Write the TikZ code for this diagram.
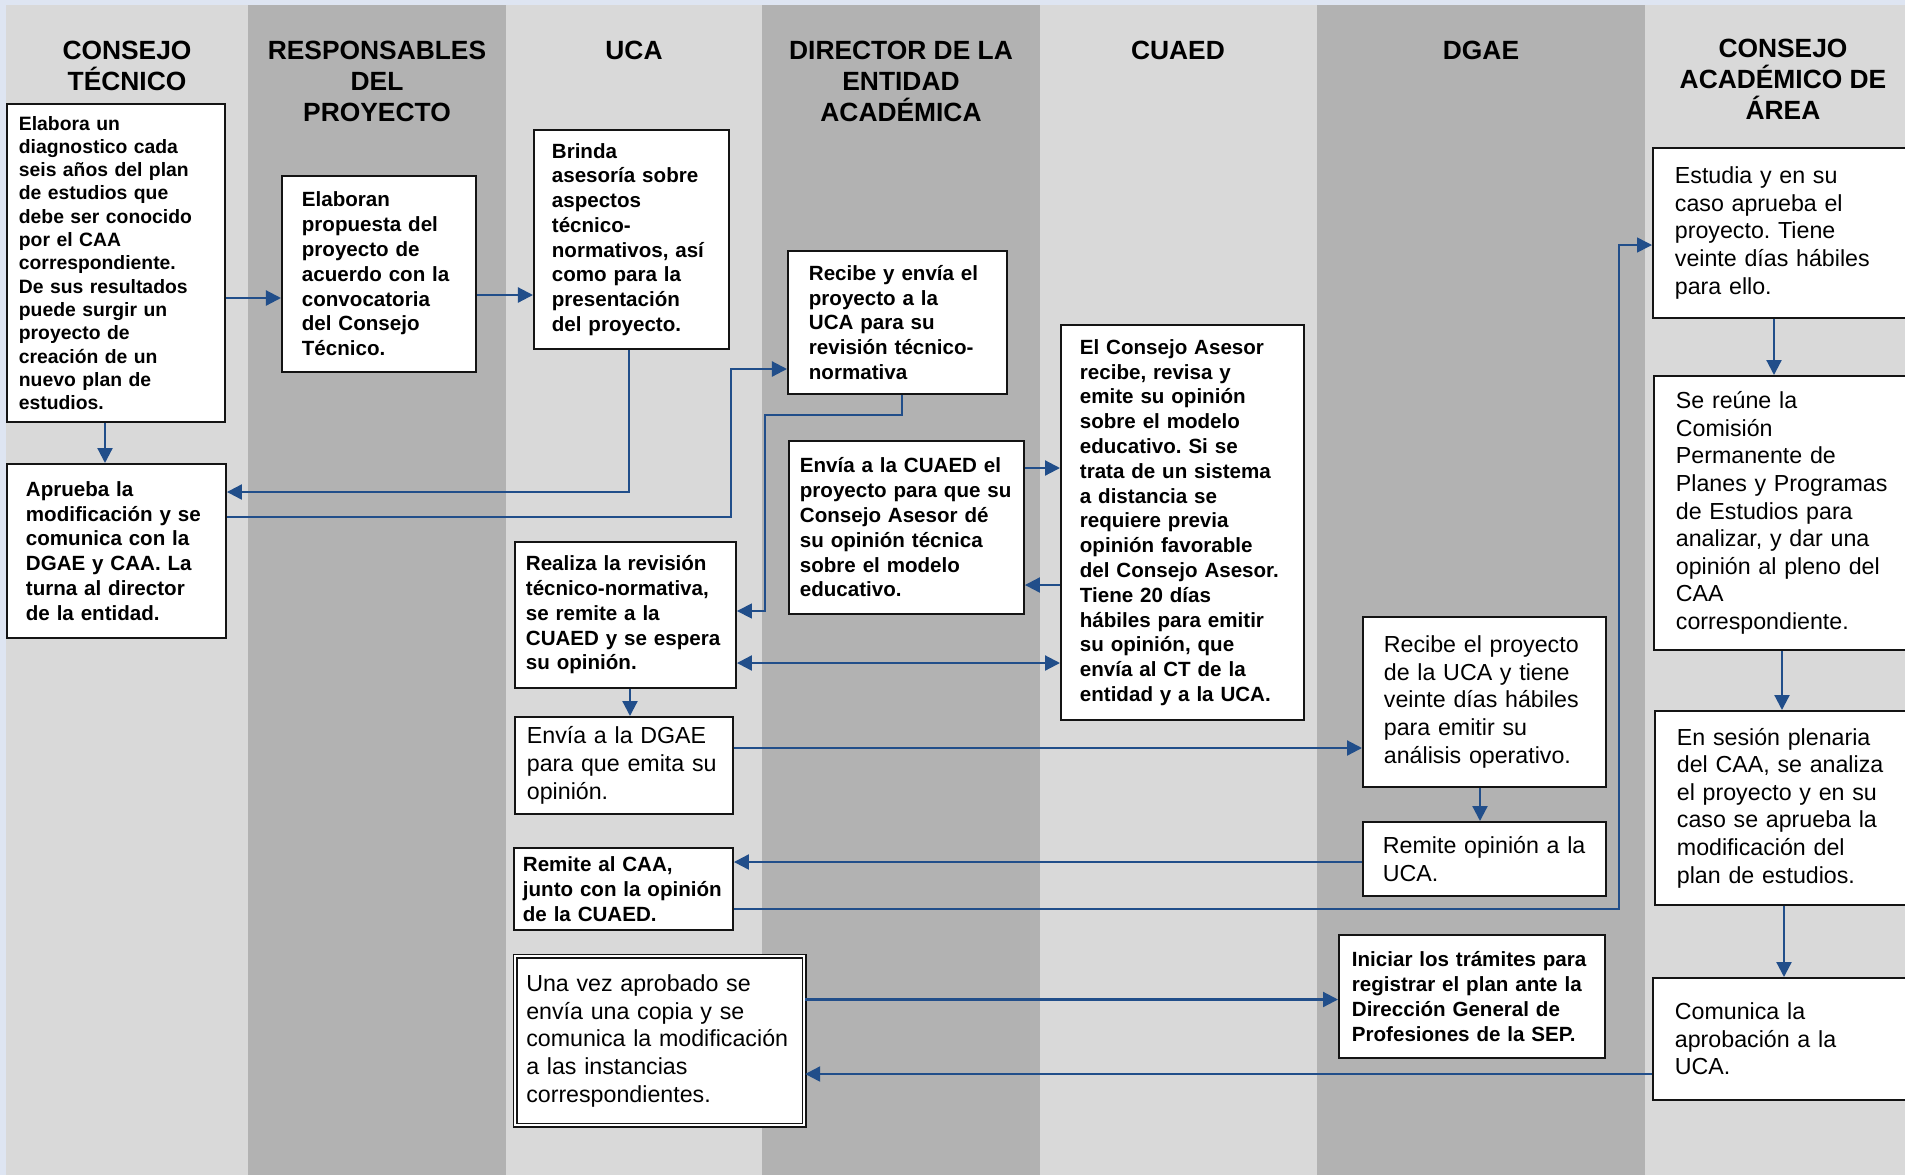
\documentclass[tikz,border=0pt]{standalone}
\usepackage{fontspec}
\setmainfont{Liberation Sans}
\usetikzlibrary{calc,arrows.meta}
\frenchspacing

\definecolor{lanelight}{RGB}{217,217,217}
\definecolor{lanedark}{RGB}{178,178,178}
\definecolor{edgeblue}{RGB}{222,229,242}
\definecolor{flowblue}{RGB}{33,78,138}
\definecolor{boxline}{RGB}{20,20,20}

\tikzset{
  head/.style={font=\fontsize{7.5}{8.9}\selectfont\bfseries, align=center, anchor=north, inner sep=0pt},
  box/.style={draw=boxline, line width=0.018cm, fill=white, anchor=north west, align=left, inner ysep=0.02cm},
  boldtxt/.style={font=\fontsize{5.85}{7.05}\selectfont\bfseries},
  regtxt/.style={font=\fontsize{6.6}{7.85}\selectfont},
  smalltxt/.style={font=\fontsize{5.5}{6.63}\selectfont\bfseries},
  flow/.style={draw=flowblue, line width=0.022cm, ->},
  thinflow/.style={draw=flowblue, line width=0.015cm, ->},
}

\begin{document}
\begin{tikzpicture}[x=0.01cm, y=-0.01cm, >={Triangle[length=0.15cm,width=0.15cm]}]
    \useasboundingbox (0,0) rectangle (1905,1175);
    \clip (0,0) rectangle (1905,1175); % the last lane's boxes run off the page

    \fill[edgeblue] (0,0) rectangle (1905,1175);
    \foreach \xa/\xb/\col in {6/248/lanelight, 248/506/lanedark, 506/762/lanelight, 762/1040/lanedark, 1040/1317/lanelight, 1317/1645/lanedark, 1645/1905/lanelight}{
        \fill[\col] (\xa,5) rectangle (\xb,1175);
    }

    % lane titles
    \node[head] (hct) at (127,40) {CONSEJO\\TÉCNICO};
    \node[head] (hrp) at (377,40) {RESPONSABLES\\DEL\\PROYECTO};
    \node[head] (huca) at (634,40) {UCA};
    \node[head] (hdir) at (901,40) {DIRECTOR DE LA\\ENTIDAD\\ACADÉMICA};
    \node[head] (hcua) at (1178,40) {CUAED};
    \node[head] (hdg) at (1481,40) {DGAE};
    \node[head] (hcaa) at (1783,38) {CONSEJO\\ACADÉMICO DE\\ÁREA};

    % consejo tecnico
    \node[box, smalltxt, text width=1.94cm, inner xsep=0.12cm, minimum height=3.18cm] (ct1) at (6,103)
        {Elabora un\\diagnostico cada\\seis años del plan\\de estudios que\\debe ser conocido\\por el CAA\\correspondiente.\\De sus resultados\\puede surgir un\\proyecto de\\creación de un\\nuevo plan de\\estudios.};
    \node[box, boldtxt, text width=1.81cm, inner xsep=0.19cm, minimum height=1.74cm] (ct2) at (6,463)
        {Aprueba la\\modificación y se\\comunica con la\\DGAE y CAA. La\\turna al director\\de la entidad.};

    % responsables
    \node[box, boldtxt, text width=1.54cm, inner xsep=0.20cm, minimum height=1.96cm] (rp1) at (281,175)
        {Elaboran\\propuesta del\\proyecto de\\acuerdo con la\\convocatoria\\del Consejo\\Técnico.};

    % uca
    \node[box, boldtxt, text width=1.59cm, inner xsep=0.18cm, minimum height=2.19cm] (uca1) at (533,129)
        {Brinda\\asesoría sobre\\aspectos\\técnico-\\normativos, así\\como para la\\presentación\\del proyecto.};
    \node[box, boldtxt, text width=1.99cm, inner xsep=0.11cm, minimum height=1.46cm] (uca2) at (514,541)
        {Realiza la revisión\\técnico-normativa,\\se remite a la\\CUAED y se espera\\su opinión.};
    \node[box, regtxt, text width=1.94cm, inner xsep=0.12cm, minimum height=0.97cm] (uca3) at (514,716)
        {Envía a la DGAE\\para que emita su\\opinión.};
    \node[box, boldtxt, text width=2.01cm, inner xsep=0.09cm, minimum height=0.82cm] (uca4) at (513,847)
        {Remite al CAA,\\junto con la opinión\\de la CUAED.};
    \node[box, regtxt, double, line width=0.015cm, double distance=0.02cm, text width=2.67cm, inner xsep=0.11cm, minimum height=1.69cm] (uca5) at (514.5,955.5)
        {Una vez aprobado se\\envía una copia y se\\comunica la modificación\\a las instancias\\correspondientes.};

    % director
    \node[box, boldtxt, text width=1.77cm, inner xsep=0.21cm, minimum height=1.43cm] (dir1) at (787,250)
        {Recibe y envía el\\proyecto a la\\UCA para su\\revisión técnico-\\normativa};
    \node[box, boldtxt, text width=2.13cm, inner xsep=0.11cm, minimum height=1.73cm] (dir2) at (788,440)
        {Envía a la CUAED el\\proyecto para que su\\Consejo Asesor dé\\su opinión técnica\\sobre el modelo\\educativo.};

    % cuaed
    \node[box, boldtxt, text width=2.05cm, inner xsep=0.19cm, minimum height=3.95cm] (cua1) at (1060,324)
        {El Consejo Asesor\\recibe, revisa y\\emite su opinión\\sobre el modelo\\educativo. Si se\\trata de un sistema\\a distancia se\\requiere previa\\opinión favorable\\del Consejo Asesor.\\Tiene 20 días\\hábiles para emitir\\su opinión, que\\envía al CT de la\\entidad y a la UCA.};

    % dgae
    \node[box, regtxt, text width=2.01cm, inner xsep=0.21cm, minimum height=1.70cm] (dg1) at (1362,616)
        {Recibe el proyecto\\de la UCA y tiene\\veinte días hábiles\\para emitir su\\análisis operativo.};
    \node[box, regtxt, text width=2.03cm, inner xsep=0.20cm, minimum height=0.74cm] (dg2) at (1362,821)
        {Remite opinión a la\\UCA.};
    \node[box, boldtxt, text width=2.40cm, inner xsep=0.13cm, minimum height=1.23cm] (dg3) at (1338,934)
        {Iniciar los trámites para\\registrar el plan ante la\\Dirección General de\\Profesiones de la SEP.};

    % consejo academico de area
    \node[box, regtxt, text width=2.19cm, inner xsep=0.22cm, minimum height=1.70cm] (caa1) at (1652,147)
        {Estudia y en su\\caso aprueba el\\proyecto. Tiene\\veinte días hábiles\\para ello.};
    \node[box, regtxt, text width=2.19cm, inner xsep=0.22cm, minimum height=2.74cm] (caa2) at (1653,375)
        {Se reúne la\\Comisión\\Permanente de\\Planes y Programas\\de Estudios para\\analizar, y dar una\\opinión al pleno del\\CAA\\correspondiente.};
    \node[box, regtxt, text width=2.19cm, inner xsep=0.22cm, minimum height=1.94cm] (caa3) at (1654,710)
        {En sesión plenaria\\del CAA, se analiza\\el proyecto y en su\\caso se aprueba la\\modificación del\\plan de estudios.};
    \node[box, regtxt, text width=2.19cm, inner xsep=0.22cm, minimum height=1.22cm] (caa4) at (1652,977)
        {Comunica la\\aprobación a la\\UCA.};

    % connectors
    \draw[flow] ($(ct1.north east)+(0,195)$) coordinate (c1) -- (c1 -| rp1.west);
    \draw[flow] ($(rp1.north east)+(0,120)$) coordinate (c2) -- (c2 -| uca1.west);
    \draw[flow] ($(ct1.south west)+(99,0)$) coordinate (c3) -- (c3 |- ct2.north);
    \draw[flow] ($(uca1.south west)+(96,0)$) |- ($(ct2.north east)+(0,29)$);
    \draw[flow] ($(ct2.north east)+(0,54)$) -| ($(dir1.north west)+(-56,119)$) -- ($(dir1.north west)+(0,119)$);
    \draw[thinflow] ($(dir1.south west)+(115,0)$) -- ++(0,20) -| ($(uca2.north east)+(28,70)$) -- ($(uca2.north east)+(0,70)$);
    \draw[flow] ($(dir2.north east)+(0,28)$) coordinate (c4) -- (c4 -| cua1.west);
    \draw[flow] ($(cua1.north west)+(0,261)$) coordinate (c5) -- (c5 -| dir2.east);
    \draw[flow, <->] ($(uca2.north east)+(0,122)$) coordinate (c6) -- (c6 -| cua1.west);
    \draw[flow] ($(uca2.south west)+(116,0)$) coordinate (c7) -- (c7 |- uca3.north);
    \draw[flow] ($(uca3.north east)+(0,32)$) coordinate (c8) -- (c8 -| dg1.west);
    \draw[flow] ($(dg1.south west)+(118,0)$) coordinate (c9) -- (c9 |- dg2.north);
    \draw[flow] ($(dg2.north west)+(0,41)$) coordinate (c10) -- (c10 -| uca4.east);
    \draw[thinflow] ($(uca4.north east)+(0,62)$) -| ($(caa1.north west)+(-33,98)$) -- ($(caa1.north west)+(0,98)$);
    \draw[flow] ($(uca5.north east)+(0,44)$) coordinate (c11) -- (c11 -| dg3.west);
    \draw[flow] ($(caa4.north west)+(0,97)$) coordinate (c12) -- (c12 -| uca5.east);
    \draw[flow] ($(caa1.south west)+(122,0)$) coordinate (c13) -- (c13 |- caa2.north);
    \draw[flow] ($(caa2.south west)+(129,0)$) coordinate (c14) -- (c14 |- caa3.north);
    \draw[flow] ($(caa3.south west)+(130,0)$) coordinate (c15) -- (c15 |- caa4.north);
\end{tikzpicture}
\end{document}
